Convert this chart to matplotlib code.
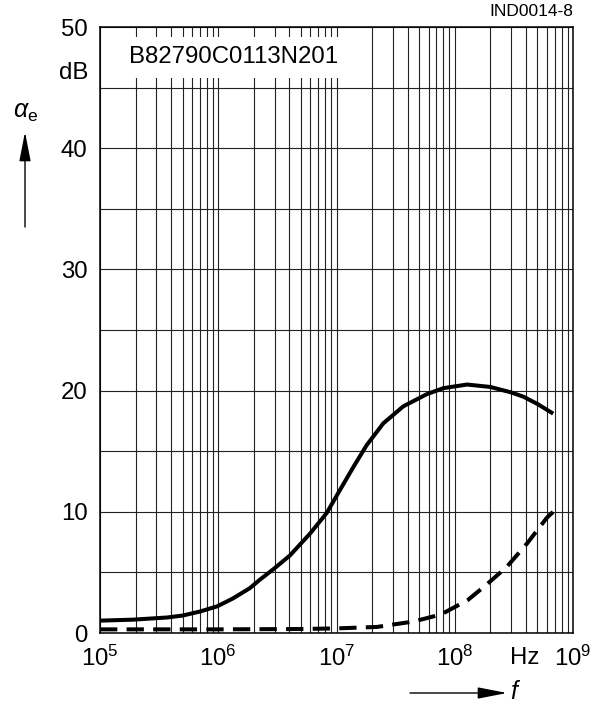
import numpy as np
import matplotlib.pyplot as plt
from matplotlib.ticker import FixedLocator, NullFormatter

plt.rcParams['font.family'] = ['Liberation Sans', 'DejaVu Sans']
plt.rcParams['mathtext.fontset'] = 'custom'
plt.rcParams['mathtext.rm'] = 'Liberation Sans'
plt.rcParams['mathtext.it'] = 'Liberation Sans:italic'

# データ (読み取り値)
freq_solid = [1e5, 1.9e5, 3.7e5, 5e5, 7e5, 9.8e5, 1.33e6, 1.85e6, 2.25e6, 3e6,
              4.04e6, 5.97e6, 8.26e6, 1.07e7, 1.39e7, 1.8e7, 2.49e7, 3.67e7,
              5.79e7, 8e7, 1.27e8, 2e8, 3e8, 3.8e8, 5e8, 6.8e8]
att_solid = [1.02, 1.1, 1.28, 1.44, 1.77, 2.2, 2.85, 3.7, 4.4, 5.35,
             6.4, 8.2, 9.9, 11.8, 13.7, 15.5, 17.3, 18.7,
             19.7, 20.2, 20.5, 20.3, 19.85, 19.5, 18.9, 18.1]

freq_dash = [1e5, 1e6, 5e6, 1e7, 2.2e7, 4.5e7, 7.65e7, 1.29e8, 1.84e8, 2.75e8,
             4.1e8, 6e8, 6.8e8]
att_dash = [0.3, 0.3, 0.33, 0.38, 0.5, 0.95, 1.53, 2.72, 3.96, 5.45,
            7.4, 9.5, 10.0]

x_ticks = [1e5, 1e6, 1e7, 1e8, 1e9]
x_labels = [r'$10^5$', r'$10^6$', r'$10^7$', r'$10^8$', r'$10^9$']
y_ticks = [0, 10, 20, 30, 40, 50]

fig = plt.figure(figsize=(6.05, 7.04), dpi=100)
ax = fig.add_axes([100 / 605, 71 / 704, 473 / 605, 606 / 704])

ax.plot(freq_solid, att_solid, color='black', lw=2.9, solid_capstyle='butt',
        solid_joinstyle='round', zorder=3)
ax.plot(freq_dash, att_dash, color='black', lw=2.9, dashes=(4.3, 2.3),
        dash_capstyle='butt', zorder=3)

ax.set_xscale('log')
ax.set_xlim(1e5, 1e9)
ax.set_ylim(0, 50)

ax.set_xticks(x_ticks)
ax.set_xticklabels(x_labels)
ax.xaxis.set_minor_locator(FixedLocator([m * 10 ** e for e in range(5, 9) for m in range(2, 10)]))
ax.xaxis.set_minor_formatter(NullFormatter())
ax.set_yticks(y_ticks)
ax.yaxis.set_minor_locator(FixedLocator(np.arange(5, 50, 10)))

ax.tick_params(which='both', length=0, labelsize=17.3)
ax.tick_params(axis='x', pad=9)
ax.tick_params(axis='y', pad=9)

ax.grid(which='both', color='#222222', lw=0.8)
ax.set_axisbelow(True)
for s in ax.spines.values():
    s.set_linewidth(1.1)

# 型番ラベル
ax.text(0.061, 0.950, 'B82790C0113N201', transform=ax.transAxes, fontsize=17.3,
        ha='left', va='center', zorder=4,
        bbox=dict(boxstyle='square,pad=0.4', fc='white', ec='none'))

# 単位など
fig.text(88 / 605, 1 - 73 / 704, 'dB', fontsize=17.3, ha='right', va='center')
fig.text(525 / 605, 1 - 658 / 704, 'Hz', fontsize=17.3, ha='center', va='center')
fig.text(573 / 605, 1 - 11 / 704, 'IND0014-8', fontsize=12.5, ha='right', va='center')

# 軸ラベルと矢印
fig.text(26 / 605, 1 - 112 / 704, r'$\alpha_{\mathrm{e}}$', fontsize=18, ha='center', va='center')
ax.annotate('', xy=(25, 704 - 132), xytext=(25, 704 - 227),
            xycoords='figure pixels', textcoords='figure pixels',
            arrowprops=dict(arrowstyle='-|>,head_length=1.8,head_width=0.35',
                            color='black', lw=1, mutation_scale=10,
                            shrinkA=0, shrinkB=0))
fig.text(516 / 605, 1 - 692 / 704, r'$f$', fontsize=18, ha='center', va='center')
ax.annotate('', xy=(507, 704 - 693), xytext=(410, 704 - 693),
            xycoords='figure pixels', textcoords='figure pixels',
            arrowprops=dict(arrowstyle='-|>,head_length=1.8,head_width=0.35',
                            color='black', lw=1, mutation_scale=10,
                            shrinkA=0, shrinkB=0), annotation_clip=False)

fig.savefig('out.png', dpi=100)
